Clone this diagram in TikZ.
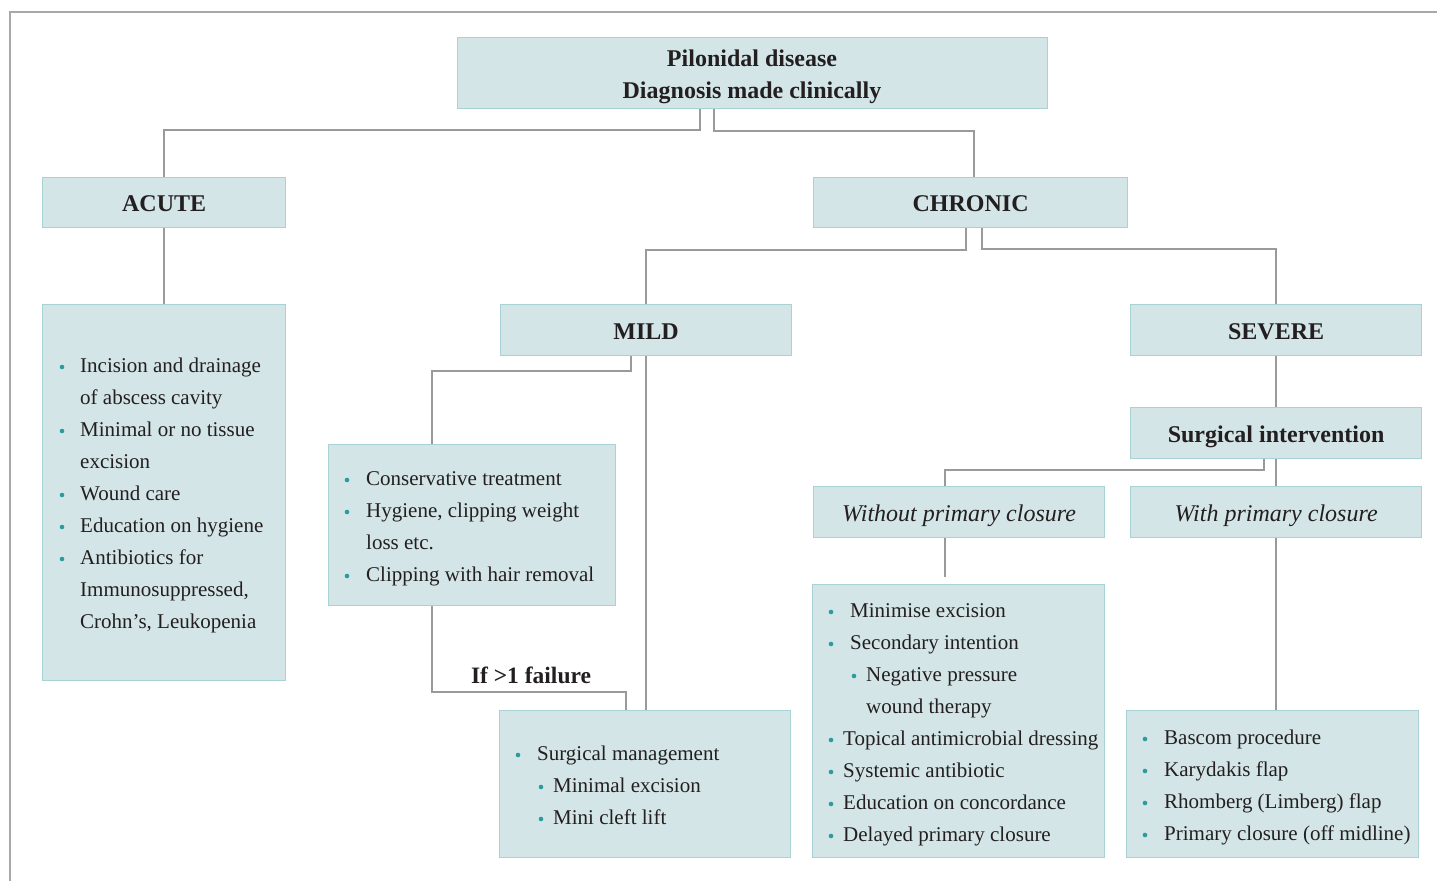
\documentclass[tikz,border=0pt]{standalone}
\usepackage{fontspec}
\setmainfont{Liberation Serif}
\usetikzlibrary{calc}
\definecolor{boxfill}{HTML}{D3E5E7}
\definecolor{boxline}{HTML}{A8D2D4}
\definecolor{conncol}{HTML}{9A9A9A}
\definecolor{bulcol}{HTML}{2A9C9C}
\definecolor{txt}{HTML}{231F20}
\definecolor{framecol}{HTML}{A8A8A8}
\newcommand\litem[4]{\fill[bulcol] (#1,#3-5) circle (2.3); \node[li] at (#2,#3) {#4};}
\newcommand\lcont[3]{\node[li] at (#1,#2) {#3};}
\begin{document}
\begin{tikzpicture}[x=1pt,y=-1pt,
  box/.style={draw=boxline, fill=boxfill, line width=1.2pt, inner sep=0pt, anchor=north west,
    font=\fontsize{24}{32}\selectfont\bfseries, text=txt, align=center, text height=20pt, text depth=2pt},
  itbox/.style={box, font=\fontsize{24}{32}\selectfont\itshape},
  conn/.style={draw=conncol, line width=1.4pt},
  li/.style={anchor=base west, inner sep=0pt, font=\fontsize{21}{24}\selectfont, text=txt},
  lbl/.style={font=\fontsize{23.5}{26}\selectfont\bfseries, text=txt, inner sep=0pt}
]
\useasboundingbox (0,0) rectangle (1437,881);
\draw[framecol, line width=1.3pt] (10,881) -- (10,12) -- (1437,12);

% boxes
\node[box, minimum width=590pt, minimum height=71pt] (top) at (457,37) {};
\node[box, minimum width=243pt, minimum height=50pt] (acute) at (42,177) {ACUTE};
\node[box, minimum width=314pt, minimum height=50pt] (chronic) at (813,177) {CHRONIC};
\node[box, minimum width=243pt, minimum height=376pt] (acutelist) at (42,304) {};
\node[box, minimum width=291pt, minimum height=51pt] (mild) at (500,304) {MILD};
\node[box, minimum width=291pt, minimum height=51pt] (severe) at (1130,304) {SEVERE};
\node[box, minimum width=291pt, minimum height=51pt] (surg) at (1130,407) {Surgical intervention};
\node[itbox, minimum width=291pt, minimum height=51pt] (without) at (813,486) {Without primary closure};
\node[itbox, minimum width=291pt, minimum height=51pt] (with) at (1130,486) {With primary closure};
\node[box, minimum width=287pt, minimum height=161pt] (cons) at (328,444) {};
\node[box, minimum width=292pt, minimum height=273pt] (wolist) at (812,584) {};
\node[box, minimum width=291pt, minimum height=147pt] (smgmt) at (499,710) {};
\node[box, minimum width=292pt, minimum height=147pt] (wlist) at (1126,710) {};
\node[font=\fontsize{24}{32}\selectfont\bfseries, text=txt, align=center, inner sep=0pt] (toptext) at (752,77) {Pilonidal disease\\Diagnosis made clinically};

% connectors
\coordinate (c1) at (700,130);
\coordinate (c2) at (714,131);
\coordinate (c2b) at (974,131);
\coordinate (c3) at (966,250);
\coordinate (c4) at (982,249);
\coordinate (c5) at (631,371);
\coordinate (c5b) at (432,371);
\coordinate (c7) at (432,692);
\coordinate (c7b) at (626,692);
\coordinate (c8) at (1264,470);
\coordinate (c8b) at (945,470);
\coordinate (c9) at (945,577);
\draw[conn] (top.south -| c1) -- (c1) -| (acute.north);
\draw[conn] (top.south -| c2) -- (c2) -- (c2b) -- (chronic.north -| c2b);
\draw[conn] (acute.south) -- (acutelist.north);
\draw[conn] (chronic.south -| c3) -- (c3) -| (mild.north);
\draw[conn] (chronic.south -| c4) -- (c4) -| (severe.north);
\draw[conn] (mild.south -| c5) -- (c5) -- (c5b) -- (cons.north -| c5b);
\draw[conn] (mild.south) -- (mild.south |- smgmt.north);
\draw[conn] (cons.south -| c7) -- (c7) -- (c7b) -- (smgmt.north -| c7b);
\draw[conn] (severe.south) -- (surg.north);
\draw[conn] (surg.south -| c8) -- (c8) -- (c8b) -- (without.north -| c8b);
\draw[conn] (surg.south) -- (with.north);
\draw[conn] (without.south -| c9) -- (c9);
\draw[conn] (with.south) -- (with.south |- wlist.north);

\node[lbl] (fail) at (531,675) {If >1 failure};

% acute list
\litem{62}{80}{372}{Incision and drainage}
\lcont{80}{404}{of abscess cavity}
\litem{62}{80}{436}{Minimal or no tissue}
\lcont{80}{468}{excision}
\litem{62}{80}{500}{Wound care}
\litem{62}{80}{532}{Education on hygiene}
\litem{62}{80}{564}{Antibiotics for}
\lcont{80}{596}{Immunosuppressed,}
\lcont{80}{628}{Crohn's, Leukopenia}

% conservative
\litem{347}{366}{485}{Conservative treatment}
\litem{347}{366}{517}{Hygiene, clipping weight}
\lcont{366}{549}{loss etc.}
\litem{347}{366}{581}{Clipping with hair removal}

% without list
\litem{831}{850}{617}{Minimise excision}
\litem{831}{850}{649}{Secondary intention}
\litem{854}{866}{681}{Negative pressure}
\lcont{866}{713}{wound therapy}
\litem{831}{843}{745}{Topical antimicrobial dressing}
\litem{831}{843}{777}{Systemic antibiotic}
\litem{831}{843}{809}{Education on concordance}
\litem{831}{843}{841}{Delayed primary closure}

% surgical management
\litem{518}{537}{760}{Surgical management}
\litem{541}{553}{792}{Minimal excision}
\litem{541}{553}{824}{Mini cleft lift}

% with list
\litem{1145}{1164}{744}{Bascom procedure}
\litem{1145}{1164}{776}{Karydakis flap}
\litem{1145}{1164}{808}{Rhomberg (Limberg) flap}
\litem{1145}{1164}{840}{Primary closure (off midline)}
\end{tikzpicture}
\end{document}
